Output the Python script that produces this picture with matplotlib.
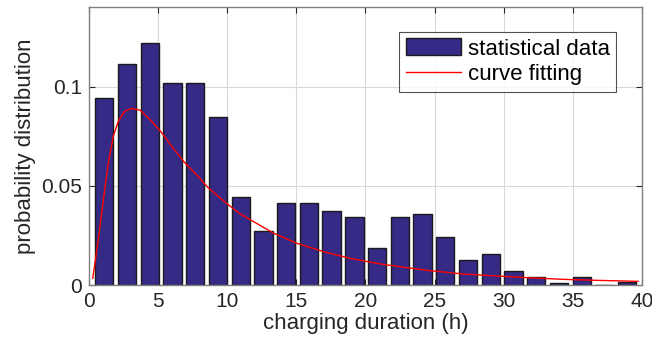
import matplotlib
matplotlib.use("Agg")
import matplotlib.pyplot as plt
from matplotlib.ticker import FuncFormatter

plt.rcParams["font.family"] = ["Liberation Sans", "DejaVu Sans"]

# Histogram bin centres (h) and heights
bin_centers = [1.10, 2.75, 4.39, 6.04, 7.68, 9.33, 10.97, 12.62, 14.26, 15.91, 17.55, 19.20,
               20.84, 22.49, 24.13, 25.78, 27.42, 29.07, 30.71, 32.36, 34.00, 35.65, 37.29, 38.94]
bin_heights = [0.0944, 0.1116, 0.1219, 0.1017, 0.1017, 0.0845, 0.0443, 0.0271, 0.0416, 0.0416,
               0.0372, 0.0343, 0.0187, 0.0343, 0.0357, 0.0244, 0.0129, 0.0158, 0.0071, 0.0044,
               0.0013, 0.0044, 0.0, 0.0015]

# Fitted curve
fit_x = [0.27, 0.67, 1.04, 1.40, 1.76, 2.12, 2.60, 3.09, 3.69, 4.53, 5.26, 5.98, 6.94, 7.90,
         8.63, 10.07, 10.92, 11.28, 13.33, 15.02, 16.94, 18.87, 21.04, 22.97, 24.66, 27.06,
         29.48, 31.89, 34.30, 36.71, 39.72]
fit_y = [0.0035, 0.0229, 0.0431, 0.0616, 0.0751, 0.0826, 0.0877, 0.0890, 0.0882, 0.0826,
         0.0768, 0.0700, 0.0616, 0.0548, 0.0490, 0.0406, 0.0360, 0.0346, 0.0263, 0.0212,
         0.0170, 0.0136, 0.0108, 0.0089, 0.0074, 0.0057, 0.0047, 0.0038, 0.0030, 0.0025,
         0.0020]

x_ticks = [0, 5, 10, 15, 20, 25, 30, 35, 40]
y_ticks = [0, 0.05, 0.1]

fig = plt.figure(figsize=(6.52, 3.49), dpi=100)
ax = fig.add_axes([0.1365, 0.1825, 0.848, 0.797])

bin_w = bin_centers[1] - bin_centers[0]
bars = ax.bar(bin_centers, bin_heights, width=0.8 * bin_w, color="#352a86", edgecolor="#1a1a1a",
              linewidth=1.0, label="statistical data", zorder=2)
line, = ax.plot(fit_x, fit_y, color="#ff0000", linewidth=1.0, label="curve fitting", zorder=3)

ax.set_xlim(0, 40)
ax.set_ylim(0, 0.14)
ax.set_xticks(x_ticks)
ax.set_yticks(y_ticks)
ax.yaxis.set_major_formatter(FuncFormatter(lambda v, p: "%g" % v))
ax.grid(True, color="#d9d9d9", linewidth=0.8, zorder=0)
ax.set_axisbelow(True)

for s in ax.spines.values():
    s.set_color("#808080")
    s.set_linewidth(1.0)
ax.tick_params(direction="in", top=True, right=True, length=4, width=0.8, color="#262626",
               labelsize=15, labelcolor="#262626", pad=5)

ax.set_xlabel("charging duration (h)", fontsize=16, color="#262626", labelpad=1)
ax.set_ylabel("probability distribution", fontsize=16, color="#262626", labelpad=4)

leg = ax.legend([bars, line], ["statistical data", "curve fitting"], loc="upper right",
                bbox_to_anchor=(0.954, 0.912), fontsize=16, frameon=True, fancybox=False,
                borderpad=0.3, handlelength=2.5, handleheight=0.8, handletextpad=0.3,
                labelspacing=0.2, borderaxespad=0)
leg.get_frame().set_edgecolor("#262626")
leg.get_frame().set_linewidth(0.8)

fig.savefig("out.png", dpi=100)
